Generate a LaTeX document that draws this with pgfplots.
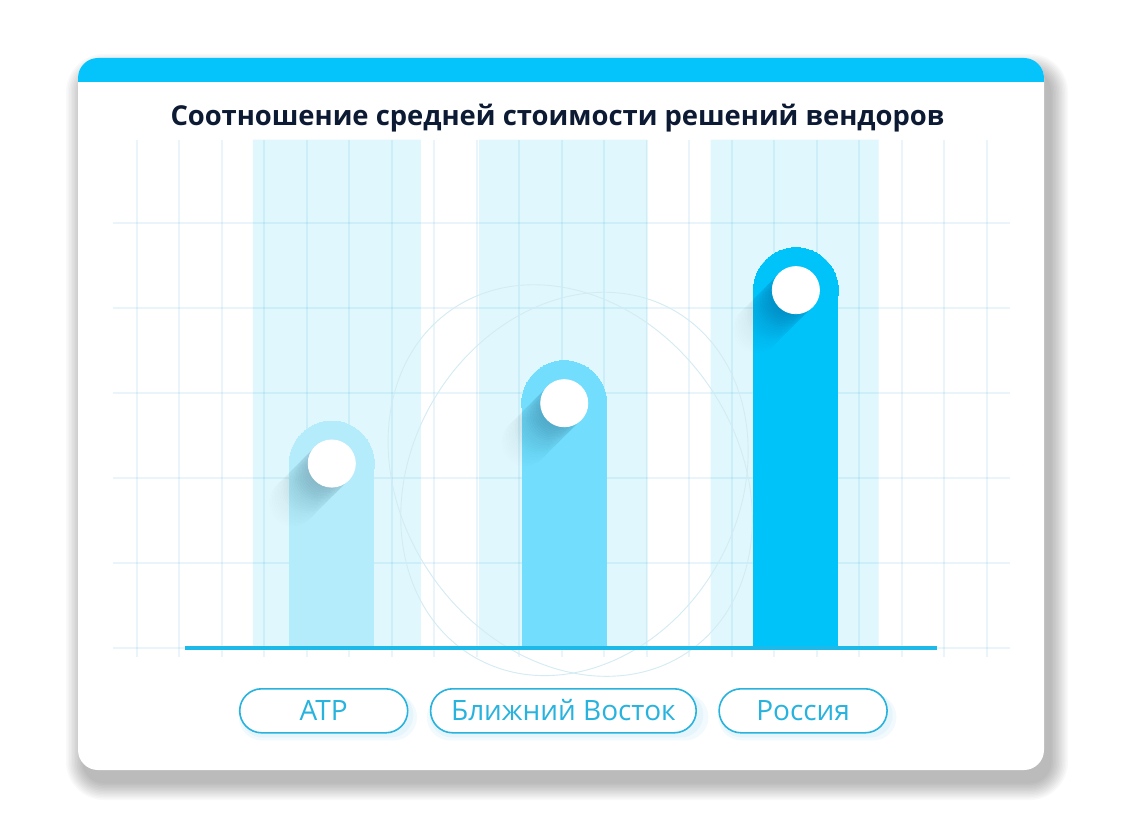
\documentclass[border=0pt]{standalone}
\usepackage{fontspec}
\setmainfont{Open Sans}
\usepackage{pgfplots}
\usepackage{pgfplotstable}
\pgfplotsset{compat=1.18}
\usetikzlibrary{shadows,backgrounds}

\definecolor{topband}{HTML}{05C3FB}
\definecolor{barA}{HTML}{B5ECFC}
\definecolor{barB}{HTML}{72DDFC}
\definecolor{barC}{HTML}{00C3FA}
\definecolor{shade}{HTML}{E0F7FD}
\definecolor{gridc}{HTML}{0096C8}
\definecolor{basec}{HTML}{1CB9E9}
\definecolor{titlec}{HTML}{0D1A33}
\definecolor{pillc}{HTML}{27B3DE}
\definecolor{ringc}{HTML}{D3EBF3}

% soft diagonal shadow behind the white dots
\pgfdeclareplotmark{sband}{%
  \foreach \k in {1,...,30}{%
    \pgfmathsetmacro\op{0.014*(1-\k/31)}%
    \fill[black, opacity=\op] (-\k*0.75pt,-\k*0.75pt) circle (11.8pt);
  }%
}

\tikzset{
  pill/.style={draw=pillc, line width=0.8pt, fill=white, rounded corners=11pt,
    minimum width=84pt, minimum height=22pt, inner xsep=10.25pt, inner ysep=0pt,
    text height=10pt, text depth=0pt, text=pillc,
    font=\fontsize{14}{16}\selectfont, anchor=north, yshift=-15.75pt,
    general shadow={fill=pillc, opacity=0.06, shadow xshift=2pt, shadow yshift=-3pt, shadow scale=1.06},
    general shadow={fill=pillc, opacity=0.06, shadow xshift=1.5pt, shadow yshift=-2pt, shadow scale=1.03}},
}

% bar heights (grid units, one unit = one horizontal grid step)
\pgfplotstableread{
x     v
4.59  2.67
10.06 3.38
15.51 4.71
}\bars

\begin{document}
\begin{tikzpicture}
\begin{axis}[
  anchor=origin, at={(0,0)},
  scale only axis, x=21.25pt, y=42.5pt,
  xmin=-0.56, xmax=20.55, ymin=-0.1, ymax=6,
  axis line style={draw=none},
  xtick=\empty, ytick=\empty,
  major tick length=0pt,
  extra x ticks={4.40,10.04,15.68},
  extra x tick labels={АТР, Ближний Восток, Россия},
  extra x tick style={grid=none, tick label style={pill}},
]
\coordinate (O) at (axis cs:0,0);
\coordinate (R1) at (axis cs:10.2,1.97);
\coordinate (R2) at (axis cs:10.3,1.93);
% background columns
\addplot[ybar, bar shift=0pt, bar width=3.95, draw=none, fill=shade]
  coordinates {(4.71,5.98) (10.03,5.98) (15.48,5.98)};

% grid
\pgfplotsinvokeforeach{0,...,20}{
  \draw[gridc, opacity=0.085, line width=1.1pt] (axis cs:#1,-0.1) -- (axis cs:#1,5.98);
}
\pgfplotsinvokeforeach{0,...,5}{
  \draw[gridc, opacity=0.085, line width=1.1pt] (axis cs:-0.56,#1) -- (axis cs:20.55,#1);
}
\end{axis}

% faint rings, between the columns and the bars
\draw[ringc, line width=0.45pt, shift={(R1)}, rotate=35] (0pt,0pt) ellipse [x radius=84pt, y radius=104pt];
\draw[ringc, line width=0.45pt, shift={(R2)}, rotate=-30] (0pt,0pt) ellipse [x radius=82pt, y radius=100pt];

\begin{axis}[
  anchor=origin, at={(0,0)},
  scale only axis, x=21.25pt, y=42.5pt,
  xmin=-0.56, xmax=20.55, ymin=-0.1, ymax=6,
  hide axis,
]
% bars with rounded tops
\addplot[ybar, bar shift=0pt, bar width=2, draw=none, fill=barA,
  mark=*, mark size=21.25pt, mark options={draw=barA, fill=barA, line width=0pt},
  restrict x to domain=4:5, y filter/.expression={y-0.5}]
  table[x=x, y=v] {\bars};
\addplot[ybar, bar shift=0pt, bar width=2, draw=none, fill=barB,
  mark=*, mark size=21.25pt, mark options={draw=barB, fill=barB, line width=0pt},
  restrict x to domain=9.5:10.5, y filter/.expression={y-0.5}]
  table[x=x, y=v] {\bars};
\addplot[ybar, bar shift=0pt, bar width=2, draw=none, fill=barC,
  mark=*, mark size=21.25pt, mark options={draw=barC, fill=barC, line width=0pt},
  restrict x to domain=15:16, y filter/.expression={y-0.5}]
  table[x=x, y=v] {\bars};

\addplot[only marks, mark=sband, y filter/.expression={y-0.5}] table[x=x, y=v] {\bars};
\addplot[only marks, mark=*, mark size=11.8pt, mark options={draw=white, fill=white},
  y filter/.expression={y-0.5}] table[x=x, y=v] {\bars};

% baseline
\draw[basec, line width=1.7pt] (axis cs:1.14,0) -- (axis cs:18.83,0);
\end{axis}

% card and frame, in reference pixels (y measured upward from the bottom)
\begin{scope}[on background layer, shift={(O)}, xshift=-68.35pt, yshift=-82.5pt, x=0.5pt, y=0.5pt]
\fill[white] (0,0) rectangle (1123,813);
\foreach \i in {1,...,12}{
  \pgfmathsetmacro\e{\i*1.5}
  \pgfmathsetmacro\rc{10+\e*0.5}
  \fill[black, opacity=0.025, rounded corners=\rc pt]
    (84-\e,31-\e) rectangle (1050+\e,741+\e);
}
\fill[white, rounded corners=10pt] (78,43) rectangle (1044,755);
\begin{scope}
  \clip[rounded corners=10pt] (78,43) rectangle (1044,755);
  \fill[topband] (78,731) rectangle (1044,756);
\end{scope}
\node[anchor=base, text=titlec, font=\bfseries\fontsize{13.7}{16}\selectfont]
  at (557.5,687) {Соотношение средней стоимости решений вендоров};
\end{scope}
\end{tikzpicture}
\end{document}
